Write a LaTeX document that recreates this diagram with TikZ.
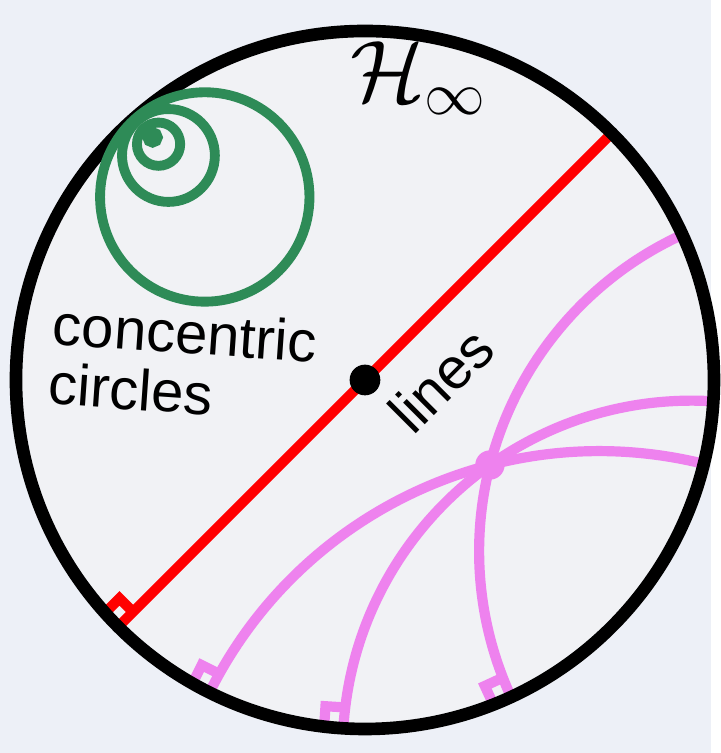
\documentclass[tikz,border=0pt]{standalone}
\usepackage{amsmath,amssymb}
\usepackage{fontspec}
\setsansfont{Liberation Sans}
\usetikzlibrary{calc}
\definecolor{PaperBlue}{RGB}{237,240,247}
\definecolor{DiskWhite}{RGB}{241,242,245}
\definecolor{HoroGreen}{HTML}{2E8B57}
\definecolor{GeoViolet}{HTML}{EE82EE}
\definecolor{DiamRed}{HTML}{FF0000}

\begin{document}
\begin{tikzpicture}[x=3.49cm,y=3.49cm]
        \fill[PaperBlue] (-1.0458,-1.0688) rectangle (0.9914,1.0888);
        \fill[DiskWhite] (0,0) circle (1);
        \draw[DiamRed,line width=2.9pt] (225:1) -- (45:1);
        \draw[DiamRed,line width=2.9pt] (225:0.94) -- ($(225:0.94)+(135:0.055)$) -- ($(225:1)+(135:0.055)$);
        \foreach \ta/\tb in {24.6/-65.26,-3.5/-93.56,-13.9/-116.46} {
          \pgfmathsetmacro\geomid{(\ta+\tb)/2}
          \pgfmathsetmacro\geohalf{(\ta-\tb)/2}
          \pgfmathsetmacro\geodist{1/cos(\geohalf)}
          \pgfmathsetmacro\georad{tan(\geohalf)}
          \draw[GeoViolet,line width=2.9pt] ($(\geomid:\geodist)+({\geomid+90+\geohalf}:\georad)$)
            arc[start angle=\geomid+90+\geohalf,end angle=\geomid+270-\geohalf,radius=\georad];
          \draw[GeoViolet,line width=2.9pt] (\tb:0.94) -- ($(\tb:0.94)+({\tb-90}:0.055)$) -- ($(\tb:1)+({\tb-90}:0.055)$);
        }
        \coordinate (meet) at (0.358,-0.2436);
        \fill[GeoViolet] (meet) circle (0.042);
        \draw[line width=3.6pt] (0,0) circle (1);
        \foreach \d/\r in {0.924/0.015,0.898/0.062,0.855/0.133,0.697/0.300} {
          \draw[HoroGreen,line width=2.8pt] (131.2:\d) circle (\r);
        }
        \coordinate (origin) at (0,0);
        \fill (origin) circle (0.044);
        \node[font=\fontsize{23.5}{28}\selectfont] (hinf) at (0.154,0.866) {$\mathcal{H}_\infty$};
        \node[font=\sffamily\fontsize{16.5}{17}\selectfont,align=left,rotate=-4] (conc) at (-0.521,0.05) {concentric\\circles};
        \node[font=\sffamily\fontsize{16.5}{18}\selectfont,rotate=45] (lines) at (0.218,0.0) {lines};
      \end{tikzpicture}
\end{document}
